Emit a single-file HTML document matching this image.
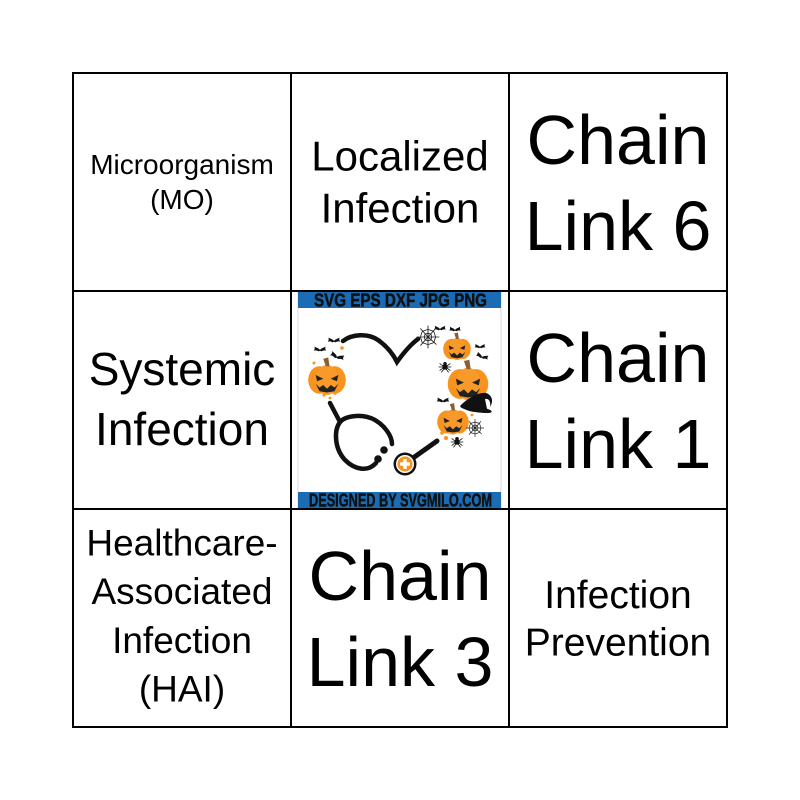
<!DOCTYPE html>
<html>
<head>
<meta charset="utf-8">
<style>
  html, body { margin:0; padding:0; background:#fff; }
  svg { display:block; }
  .t { font-family: "Liberation Sans", Arial, sans-serif; fill:#000; text-anchor:middle; }
  .b { font-family: "Liberation Sans Narrow", "Liberation Sans", Arial, sans-serif; font-weight:900; fill:#111; }
</style>
</head>
<body>
<svg width="800" height="800" viewBox="0 0 800 800" xmlns="http://www.w3.org/2000/svg">
  <defs>
    <g id="pumpkin">
      <ellipse cx="-6" cy="0" rx="9" ry="11" fill="#f7931e"/>
      <ellipse cx="6" cy="0" rx="9" ry="11" fill="#f7931e"/>
      <ellipse cx="0" cy="0" rx="9" ry="12" fill="#f89a2a"/>
      <path d="M-1,-11 L-3,-17 L1,-18 L2,-11 Z" fill="#8b5e34"/>
      <path d="M-9,-4 L-3,-1 L-8,1 Z M9,-4 L3,-1 L8,1 Z" fill="#222"/>
      <path d="M-9,3 L-6,6 L-3,4 L0,7 L3,4 L6,6 L9,3 L6,9 L0,10 L-6,9 Z" fill="#222"/>
    </g>
    <path id="bat" d="M0,0 C-2,-3 -5,-3 -8,-5 C-7,-2 -8,0 -9,1 C-6,0 -4,1 -2,2 L0,1 L2,2 C4,1 6,0 9,1 C8,0 7,-2 8,-5 C5,-3 2,-3 0,0 Z" fill="#111"/>
    <g id="web" fill="none" stroke="#222" stroke-width="0.9">
      <path d="M0,0 L0,-12 M0,0 L8,-9 M0,0 L12,0 M0,0 L9,8 M0,0 L0,12 M0,0 L-8,9 M0,0 L-12,0 M0,0 L-8,-9"/>
      <path d="M0,-4 L3,-3 L4,0 L3,3 L0,4 L-3,3 L-4,0 L-3,-3 Z"/>
      <path d="M0,-8 L6,-6 L8,0 L6,6 L0,8 L-6,6 L-8,0 L-6,-6 Z"/>
    </g>
    <g id="spider">
      <circle cx="0" cy="0" r="3" fill="#111"/>
      <circle cx="0" cy="-3.5" r="2" fill="#111"/>
      <path d="M-2,-1 L-6,-4 M-2,0 L-7,0 M-2,1 L-6,4 M-1,2 L-4,6 M2,-1 L6,-4 M2,0 L7,0 M2,1 L6,4 M1,2 L4,6" stroke="#111" stroke-width="0.9" fill="none"/>
    </g>
  </defs>

  <rect x="0" y="0" width="800" height="800" fill="#fff"/>

  <!-- center image -->
  <rect x="298" y="292" width="203" height="216" fill="#fff" stroke="#d0d0d0" stroke-width="0.8"/>
  <rect x="298" y="292" width="203" height="16" fill="#1b6cb4"/>
  <text class="b" x="314" y="306.5" font-size="18" textLength="173" lengthAdjust="spacingAndGlyphs" stroke="#111" stroke-width="0.5">SVG  EPS  DXF  JPG  PNG</text>
  <rect x="298" y="492" width="203" height="16" fill="#1b6cb4"/>
  <text class="b" x="309" y="506.5" font-size="18" textLength="183" lengthAdjust="spacingAndGlyphs" stroke="#111" stroke-width="0.5">DESIGNED BY SVGMILO.COM</text>

  <!-- heart tube -->
  <path d="M343,341 C352,334 368,333 378,340 C388,347 394,356 397,362 C402,355 410,345 418,339" fill="none" stroke="#111" stroke-width="4.5" stroke-linecap="round"/>
  <!-- stethoscope -->
  <path d="M330,403 L340,422" fill="none" stroke="#111" stroke-width="4.5" stroke-linecap="round"/>
  <path d="M340,422 C345,416 362,413 375,420 C385,426 392,436 392,444" fill="none" stroke="#111" stroke-width="4.5" stroke-linecap="round"/>
  <path d="M340,422 C334,430 334,448 345,460 C355,470 368,472 376,463" fill="none" stroke="#111" stroke-width="4.5" stroke-linecap="round"/>
  <circle cx="384" cy="450" r="3.8" fill="#111"/>
  <circle cx="378" cy="459" r="3.8" fill="#111"/>
  <path d="M413,458 L437,441" fill="none" stroke="#111" stroke-width="5" stroke-linecap="round"/>
  <circle cx="405" cy="464" r="11.5" fill="#111"/>
  <circle cx="405" cy="464" r="9" fill="#fff"/>
  <circle cx="405" cy="464" r="7.5" fill="#f7931e"/>
  <rect x="400" y="462.3" width="10" height="3.4" fill="#fff"/>
  <rect x="403.3" y="459" width="3.4" height="10" fill="#fff"/>

  <!-- orange dots -->
  <g fill="#f7931e">
    <circle cx="342" cy="348" r="1.8"/>
    <circle cx="314" cy="363" r="1.5"/>
    <circle cx="324" cy="395" r="1.6"/>
    <circle cx="330" cy="398" r="1.4"/>
    <circle cx="335" cy="393" r="1.8"/>
    <circle cx="442" cy="433" r="1.8"/>
    <circle cx="446" cy="438" r="2"/>
    <circle cx="472" cy="415" r="1.4"/>
  </g>

  <!-- pumpkins -->
  <use href="#pumpkin" transform="translate(327,380) scale(1.25)"/>
  <use href="#pumpkin" transform="translate(457,349) scale(0.92)"/>
  <use href="#pumpkin" transform="translate(468,384) scale(1.35)"/>
  <use href="#pumpkin" transform="translate(453,422) scale(1.05)"/>

  <!-- bats -->
  <use href="#bat" transform="translate(320,350) scale(0.7)"/>
  <use href="#bat" transform="translate(334,341) scale(0.7)"/>
  <use href="#bat" transform="translate(337,357) scale(0.8) rotate(20)"/>
  <use href="#bat" transform="translate(440,329) scale(0.65)"/>
  <use href="#bat" transform="translate(455,330) scale(0.65)"/>
  <use href="#bat" transform="translate(480,347) scale(0.6)"/>
  <use href="#bat" transform="translate(482,357) scale(0.7) rotate(20)"/>
  <use href="#bat" transform="translate(443,401) scale(0.7)"/>

  <!-- webs -->
  <use href="#web" transform="translate(428,337) scale(0.95)"/>
  <use href="#web" transform="translate(475,428) scale(0.75)"/>

  <!-- spiders -->
  <use href="#spider" transform="translate(445,367) scale(0.9)"/>
  <use href="#spider" transform="translate(457,442) scale(0.9)"/>

  <!-- witch hat -->
  <path d="M460,406 C468,398 478,392 486,393 C492,395 494,401 490,407 C491,402 489,398 485,399 L487,409 C482,414 468,413 460,406 Z" fill="#111"/>
  <ellipse cx="476" cy="409" rx="16" ry="3" fill="#111" transform="rotate(10 476 409)"/>

  <!-- grid -->
  <rect x="73" y="73" width="654" height="654" fill="none" stroke="#000" stroke-width="2"/>
  <line x1="291" y1="73" x2="291" y2="727" stroke="#000" stroke-width="2"/>
  <line x1="509" y1="73" x2="509" y2="727" stroke="#000" stroke-width="2"/>
  <line x1="73" y1="291" x2="727" y2="291" stroke="#000" stroke-width="2"/>
  <line x1="73" y1="509" x2="727" y2="509" stroke="#000" stroke-width="2"/>

  <!-- cell texts -->
  <text class="t" x="182" y="174" font-size="28">Microorganism</text>
  <text class="t" x="182" y="209" font-size="28">(MO)</text>

  <text class="t" x="400" y="170.5" font-size="42">Localized</text>
  <text class="t" x="400" y="222.5" font-size="42">Infection</text>

  <text class="t" x="618" y="164" font-size="70">Chain</text>
  <text class="t" x="618" y="250" font-size="70">Link 6</text>

  <text class="t" x="182" y="385" font-size="46">Systemic</text>
  <text class="t" x="182" y="445" font-size="46">Infection</text>

  <text class="t" x="618" y="382" font-size="70">Chain</text>
  <text class="t" x="618" y="468" font-size="70">Link 1</text>

  <text class="t" x="182" y="555.5" font-size="37">Healthcare-</text>
  <text class="t" x="182" y="604.2" font-size="37">Associated</text>
  <text class="t" x="182" y="652.9" font-size="37">Infection</text>
  <text class="t" x="182" y="701.6" font-size="37">(HAI)</text>

  <text class="t" x="400" y="600" font-size="70">Chain</text>
  <text class="t" x="400" y="686" font-size="70">Link 3</text>

  <text class="t" x="618" y="608" font-size="39">Infection</text>
  <text class="t" x="618" y="655.5" font-size="39">Prevention</text>
</svg>
</body>
</html>
